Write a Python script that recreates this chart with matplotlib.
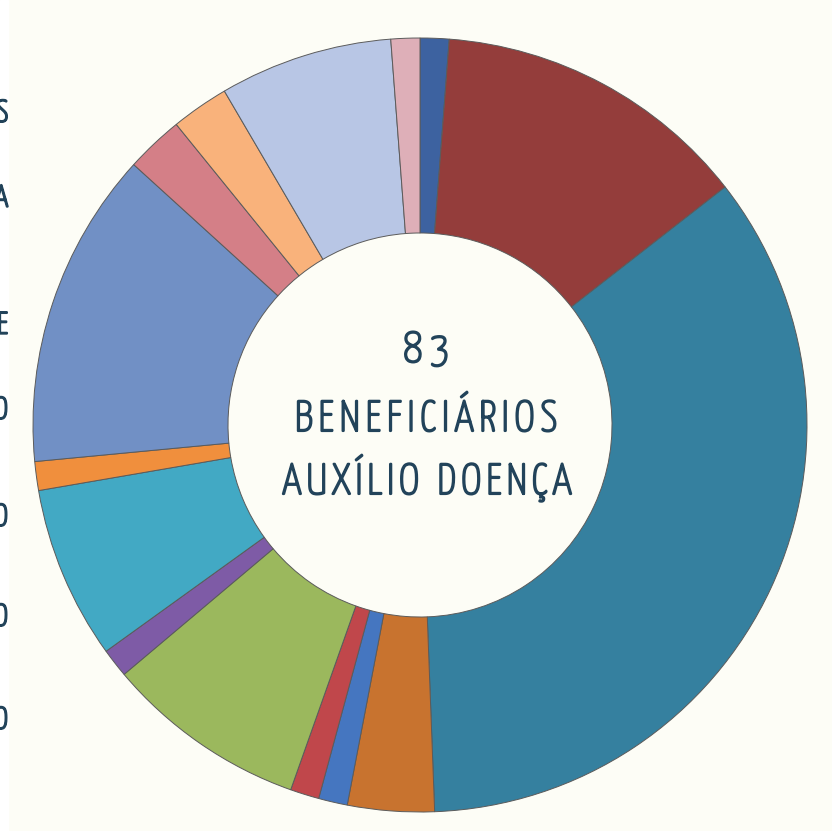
import matplotlib
matplotlib.use("Agg")
import matplotlib.pyplot as plt
import matplotlib.patheffects as pe
from matplotlib import font_manager

counts = [1, 11, 29, 3, 1, 1, 7, 1, 6, 1, 11, 2, 2, 6, 1]
colors = ["#3d62a0", "#943d3b", "#35809f", "#c8732f", "#4576c0", "#c0474b",
          "#9bb85d", "#7e5ba6", "#42a9c4", "#f08f3d", "#7190c5", "#d47f87",
          "#f9b27b", "#b8c6e5", "#deafb8"]
center_lines = ["83", "BENEFICIÁRIOS", "AUXÍLIO DOENÇA"]
edge_letters = ["S", "A", "E", "O", "O", "O", "O"]
edge_y = [113, 198, 325, 410, 517, 617, 720]

names = {f.name for f in font_manager.fontManager.ttflist}
font = "DejaVu Sans"
for cand in ["Yanone Kaffeesatz", "Fira Sans Condensed", "Barlow Semi Condensed",
             "Barlow Condensed", "Asap Condensed"]:
    if cand in names:
        font = cand
        break

TEXT = "#22435a"
thick = [pe.withStroke(linewidth=1.6, foreground=TEXT)]

fig = plt.figure(figsize=(8.32, 8.31), dpi=100)
fig.patch.set_facecolor("#fdfdf6")
ax = fig.add_axes([0, 0, 1, 1])

ax.axvspan(0, 8, color="white", zorder=0)

ax.pie(counts, colors=colors, startangle=-90, counterclock=True,
       center=(420, 425), radius=387, frame=True,
       wedgeprops=dict(width=195, edgecolor="#5b5b5b", linewidth=0.7))
ax.set_xlim(0, 832)
ax.set_ylim(831, 0)
ax.set_aspect("equal")
ax.axis("off")

renderer = fig.canvas.get_renderer()


def spaced_text(s, x, y, width, size):
    # draw letters one by one so the line is letter-spaced to a given width
    pieces = []
    for ch in s:
        t = ax.text(0, y, ch, color=TEXT, family=font, fontsize=size,
                    ha="left", va="center", path_effects=thick)
        w = t.get_window_extent(renderer).width
        pieces.append((t, w))
    total = sum(w for _, w in pieces)
    gap = (width - total) / max(len(s) - 1, 1)
    cx = x - width / 2
    for t, w in pieces:
        t.set_x(cx)
        cx += w + gap


spaced_text(center_lines[0], 426, 350, 46, 31)
spaced_text(center_lines[1], 426, 419, 262, 31)
spaced_text(center_lines[2], 427, 482, 289, 31)

for ch, y in zip(edge_letters, edge_y):
    ax.text(8, y, ch, color=TEXT, family=font, ha="right", va="center",
            fontsize=22, path_effects=thick)

fig.savefig("out.png", dpi=100, facecolor=fig.get_facecolor())
